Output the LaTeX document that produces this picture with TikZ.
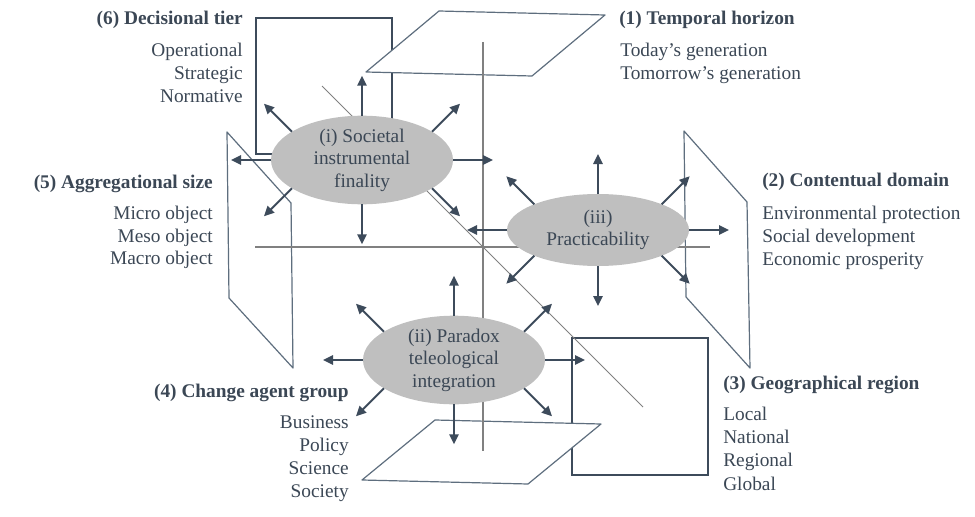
\documentclass[tikz,border=0pt]{standalone}
\usepackage{fontspec}
\setmainfont{Liberation Serif}
\usetikzlibrary{arrows.meta,shapes.geometric,calc}
\definecolor{txt}{HTML}{3B4755}
\definecolor{arrc}{HTML}{3D4B5B}
\definecolor{planec}{HTML}{5E6E7E}
\definecolor{axisc}{HTML}{808080}
\definecolor{ellf}{HTML}{BFBFBF}
\begin{document}
\begin{tikzpicture}[x=0.75pt,y=-0.75pt,
  hdr/.style={font=\fontsize{14.5pt}{17pt}\selectfont\bfseries, text=txt, inner sep=0pt},
  item/.style={font=\fontsize{14.5pt}{17pt}\selectfont, text=txt, inner sep=0pt},
  planebox/.style={draw=planec, line width=0.9pt, fill=white, line join=round},
  sqbox/.style={draw=arrc, line width=1.1pt},
  axisline/.style={draw=axisc, line width=1.1pt},
  diagline/.style={draw=axisc, line width=0.75pt},
  arr/.style={draw=arrc, line width=1.5pt, -{Triangle[length=7.5pt,width=7pt]}},
  ell/.style={ellipse, fill=ellf, minimum width=136.5pt, minimum height=54pt, inner sep=0pt, outer sep=0pt, align=center, text=txt, font=\fontsize{14.5pt}{16.9pt}\selectfont}
]
\useasboundingbox (0,0) rectangle (975,517);

% squares
\draw[sqbox] (256,18) rectangle (392,154);
\draw[sqbox] (572,338) rectangle (708,475);

% planes
\draw[planebox] (439,11) -- (605,15) -- (532,76) -- (366,72) -- cycle;
\draw[planebox] (227,132) -- (291,203) -- (293,368) -- (229,298) -- cycle;
\draw[planebox] (684,131) -- (747,202) -- (750,368) -- (686,297) -- cycle;
\draw[planebox] (435,420) -- (601,424) -- (528,484) -- (362,480) -- cycle;

% axes
\coordinate (vt) at (483,42);
\coordinate (vb) at (483,451);
\coordinate (hl) at (255,247);
\coordinate (hr) at (710,247);
\coordinate (dt) at (322,86);
\coordinate (db) at (643,407);
\draw[axisline] (vt) -- (vb);
\draw[axisline] (hl) -- (hr);
\draw[diagline] (dt) -- (db);

% ellipses
\node[ell] (e1) at (362,160) {(i) Societal\\instrumental\\finality};
\node[ell] (e3) at (598,230) {(iii)\\Practicability};
\node[ell] (e2) at (454,360) {(ii) Paradox\\teleological\\integration};

\foreach \e in {e1,e2,e3}{
  \draw[arr] (\e.north) -- ++(0,-40);
  \draw[arr] (\e.south) -- ++(0,40);
  \draw[arr] (\e.west) -- ++(-40,0);
  \draw[arr] (\e.east) -- ++(40,0);
  \draw[arr] (\e.158) -- ++(-28,-28);
  \draw[arr] (\e.22) -- ++(28,-28);
  \draw[arr] (\e.202) -- ++(-28,28);
  \draw[arr] (\e.338) -- ++(28,28);
}

% (6)
\node[hdr, anchor=base east] (h6) at (243,25) {(6) Decisional tier};
\foreach \t [count=\i] in {Operational,Strategic,Normative}
  \node[item, anchor=base east] (i6-\i) at (243,{34+23*\i}) {\t};
% (1)
\node[hdr, anchor=base west] (h1) at (619,25) {(1) Temporal horizon};
\foreach \t [count=\i] in {Today’s generation,Tomorrow’s generation}
  \node[item, anchor=base west] (i1-\i) at (620,{34+23*\i}) {\t};
% (5)
\node[hdr, anchor=base east] (h5) at (213,188) {(5) Aggregational size};
\foreach \t [count=\i] in {Micro object,Meso object,Macro object}
  \node[item, anchor=base east] (i5-\i) at (213,{197+22.5*\i}) {\t};
% (2)
\node[hdr, anchor=base west] (h2) at (762,186) {(2) Contentual domain};
\foreach \t [count=\i] in {Environmental protection,Social development,Economic prosperity}
  \node[item, anchor=base west] (i2-\i) at (762,{196+23.3*\i}) {\t};
% (4)
\node[hdr, anchor=base east] (h4) at (349,397) {(4) Change agent group};
\foreach \t [count=\i] in {Business,Policy,Science,Society}
  \node[item, anchor=base east] (i4-\i) at (349,{405+23*\i}) {\t};
% (3)
\node[hdr, anchor=base west] (h3) at (723,389) {(3) Geographical region};
\foreach \t [count=\i] in {Local,National,Regional,Global}
  \node[item, anchor=base west] (i3-\i) at (723,{397+23.3*\i}) {\t};
\end{tikzpicture}
\end{document}
